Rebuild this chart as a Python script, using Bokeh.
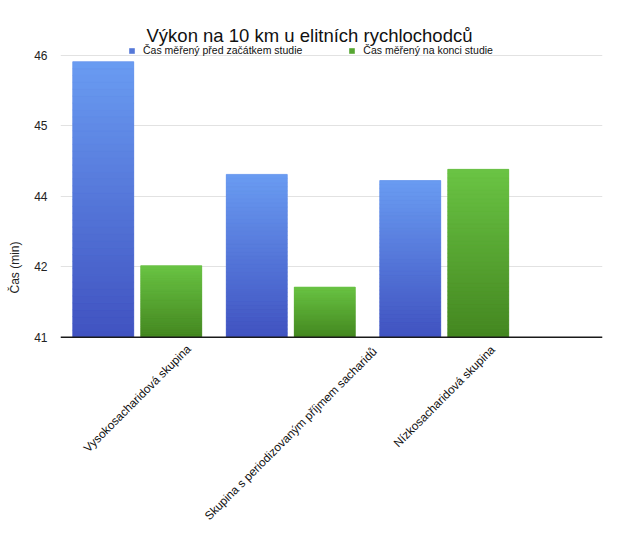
import math
from bokeh.plotting import figure
from bokeh.models import (Range1d, FixedTicker, Span, Legend, LegendItem, Label,
                          ColumnDataSource)
from bokeh.core.properties import value
from bokeh.embed import file_html
from bokeh.resources import INLINE

# ---------------- data ----------------
TITLE = "Výkon na 10 km u elitních rychlochodců"
CATEGORIES = ["Vysokosacharidová skupina",
              "Skupina s periodizovaným příjmem sacharidů",
              "Nízkosacharidová skupina"]
SERIES_NAMES = ["Čas měřený před začátkem studie", "Čas měřený na konci studie"]
BEFORE = [45.89, 43.89, 43.78]
AFTER = [42.27, 41.89, 43.98]
Y_TICKS = [41, 42.25, 43.5, 44.75, 46]
Y_TICK_LABELS = ["41", "42", "44", "45", "46"]
Y_LABEL = "Čas (min)"

# ---------------- style / layout ----------------
FONT = "Liberation Sans"
W, H = 612, 534
FRAME_L, FRAME_R = 60, 602          # canvas px
PX_GROUP = 153.5                    # px per category
Y_TOP_PX, Y_BASE_PX = 55.0, 336.7   # canvas px of 46 and 41
PX_UNIT = (Y_BASE_PX - Y_TOP_PX) / (Y_TICKS[-1] - Y_TICKS[0])
BASE = Y_TICKS[0]
BAR_W = 61 / PX_GROUP
OFF = 34 / PX_GROUP
BLUE_TOP, BLUE_BOT = (106, 156, 242), (64, 82, 192)
GREEN_TOP, GREEN_BOT = (106, 196, 68), (68, 134, 32)
BLUE_MID, GREEN_MID = "#5578d8", "#56a632"

x_end = (FRAME_R - FRAME_L) / PX_GROUP
y_end = Y_TICKS[-1] + Y_TOP_PX / PX_UNIT
y_start = BASE - (H - Y_BASE_PX) / PX_UNIT

p = figure(width=W, height=H, output_backend="svg", toolbar_location=None,
           x_axis_location=None, title=None,
           x_range=Range1d(0, x_end), y_range=Range1d(y_start, y_end),
           min_border_left=FRAME_L, min_border_right=W - FRAME_R,
           min_border_top=0, min_border_bottom=0)
p.outline_line_color = None
p.background_fill_color = "white"
p.border_fill_color = "white"
p.xgrid.visible = False
p.ygrid.ticker = FixedTicker(ticks=Y_TICKS)
p.ygrid.grid_line_color = "#e2e2e2"
p.ygrid.grid_line_width = 1

ax = p.yaxis[0]
ax.ticker = FixedTicker(ticks=Y_TICKS)
ax.major_label_overrides = {float(t): l for t, l in zip(Y_TICKS, Y_TICK_LABELS)}
ax.axis_line_color = None
ax.major_tick_line_color = None
ax.minor_tick_line_color = None
ax.major_tick_out = 0
ax.major_tick_in = 0
ax.major_label_standoff = 13
ax.major_label_text_font = FONT
ax.major_label_text_font_size = "12px"
ax.major_label_text_color = "#222222"
ax.axis_label = Y_LABEL
ax.axis_label_text_font = FONT
ax.axis_label_text_font_size = "12px"
ax.axis_label_text_font_style = "normal"
ax.axis_label_text_color = "#222222"
ax.axis_label_standoff = 9

centers = [i + 0.5 for i in range(len(CATEGORIES))]
xb = [c - OFF for c in centers]
xg = [c + OFF for c in centers]

src_b = ColumnDataSource(dict(x=xb, top=BEFORE))
src_g = ColumnDataSource(dict(x=xg, top=AFTER))
rb = p.vbar(x="x", top="top", bottom=BASE, width=BAR_W, source=src_b,
            fill_color=BLUE_MID, line_color=None)
rg = p.vbar(x="x", top="top", bottom=BASE, width=BAR_W, source=src_g,
            fill_color=GREEN_MID, line_color=None)


def hexc(c):
    return "#%02x%02x%02x" % tuple(int(round(v)) for v in c)


def gradient(xs, vals, ctop, cbot, n=40):
    L, R, B, T, C = [], [], [], [], []
    for x, v in zip(xs, vals):
        for k in range(n):
            b = BASE + (v - BASE) * k / n
            t = BASE + (v - BASE) * (k + 1) / n
            f = (k + 0.5) / n
            col = [cb + (ct - cb) * f for ct, cb in zip(ctop, cbot)]
            L.append(x - BAR_W / 2); R.append(x + BAR_W / 2)
            B.append(b); T.append(t); C.append(hexc(col))
    p.quad(left=L, right=R, bottom=B, top=T, fill_color=C, line_color=C,
           line_width=0.6)


gradient(xb, BEFORE, BLUE_TOP, BLUE_BOT)
gradient(xg, AFTER, GREEN_TOP, GREEN_BOT)

p.add_layout(Span(location=BASE, dimension="width", line_color="#1a1a1a",
                  line_width=1.6))

# rotated category labels centred under each group
gap_px = 5.0
lab_y = []
for c in CATEGORIES:
    ext = (len(c) * 5.85 + 13) * math.sqrt(0.5)
    lab_y.append(BASE - (gap_px + ext / 2) / PX_UNIT)
p.text(x=centers, y=lab_y, text=CATEGORIES, angle=math.pi / 4,
       text_align="center", text_baseline="middle",
       text_font=value(FONT), text_font_size="11.8px", text_color="#111111")

# title
p.add_layout(Label(x=(309 - FRAME_L) / PX_GROUP,
                   y=Y_TICKS[-1] + (Y_TOP_PX - 35) / PX_UNIT,
                   text=TITLE, text_align="center", text_baseline="alphabetic",
                   text_font=FONT, text_font_size="18.5px", text_color="#111111"))

legend = Legend(items=[LegendItem(label=SERIES_NAMES[0], renderers=[rb]),
                       LegendItem(label=SERIES_NAMES[1], renderers=[rg])],
                orientation="horizontal", location=(68, H - 57),
                glyph_width=7, glyph_height=7, label_height=14,
                label_standoff=8, spacing=46, padding=0, margin=0,
                border_line_color=None, background_fill_alpha=0,
                label_text_font=FONT, label_text_font_size="10.5px",
                label_text_color="#111111")
p.add_layout(legend)

open("out.html", "w").write(file_html(p, INLINE))
